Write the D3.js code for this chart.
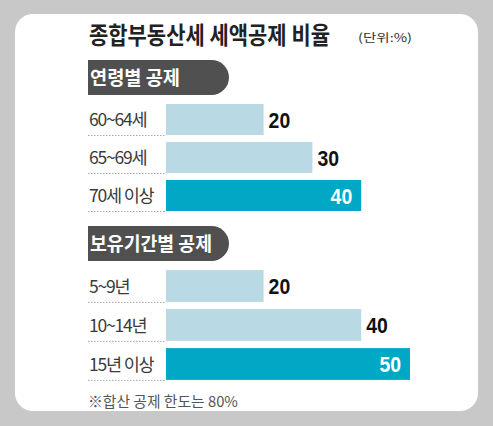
<!DOCTYPE html>
<head>
  <meta charset="utf-8">
  <script src="https://d3js.org/d3.v7.min.js"></script>
  <style>
    body { margin:0; background:#c8c8c8; }
    text { font-family: "Noto Sans CJK KR", sans-serif; }
    .num { font-family: "Liberation Sans", sans-serif; font-weight: bold; }
  </style>
</head>
<body>
  <script>
    var width = 493,
        height = 426;

    var title = "종합부동산세 세액공제 비율";
    var unit = "(단위:%)";
    var note = "※합산 공제 한도는 80%";

    var groupNames = ["연령별 공제", "보유기간별 공제"];
    var ageCats = ["60~64세", "65~69세", "70세 이상"];
    var ageValues = [20, 30, 40];
    var holdCats = ["5~9년", "10~14년", "15년 이상"];
    var holdValues = [20, 40, 50];

    var svg = d3.select("body").append("svg")
      .attr("width", width)
      .attr("height", height);

    // card
    svg.append("rect")
      .attr("x", 15).attr("y", 14)
      .attr("width", 463).attr("height", 397)
      .attr("rx", 18).attr("fill", "#fff");

    svg.append("text")
      .attr("x", 89).attr("y", 43.5)
      .attr("font-size", 23.5).attr("font-weight", "bold")
      .attr("fill", "#222")
      .attr("textLength", 241).attr("lengthAdjust", "spacingAndGlyphs")
      .text(title);

    svg.append("text")
      .attr("x", 358).attr("y", 42)
      .attr("font-size", 11.5).attr("fill", "#333")
      .attr("textLength", 54).attr("lengthAdjust", "spacingAndGlyphs")
      .text(unit);

    var x = d3.scaleLinear().domain([0, 50]).range([166, 410]);

    function drawGroup(name, cats, values, pillTop, range, textW) {
      var g = svg.append("g");

      // pill header: square left, round right
      var h = 35, r = 17.5, x0 = 88, x1 = 229;
      g.append("path")
        .attr("d", "M" + x0 + "," + pillTop + "H" + (x1 - r) +
          "A" + r + "," + r + " 0 0 1 " + (x1 - r) + "," + (pillTop + h) +
          "H" + x0 + "Z")
        .attr("fill", "#505050");
      g.append("text")
        .attr("x", 90).attr("y", pillTop + 25)
        .attr("font-size", 19).attr("font-weight", "bold")
        .attr("fill", "#fff")
        .attr("textLength", textW).attr("lengthAdjust", "spacingAndGlyphs")
        .text(name);

      var y = d3.scaleBand().domain(cats).range(range)
        .paddingInner(0.184).paddingOuter(0.092);

      var rows = g.selectAll(".row").data(cats).enter().append("g");

      rows.append("line")
        .attr("x1", 88).attr("x2", 166)
        .attr("y1", function(d) { return y(d) + y.bandwidth() + 0.5; })
        .attr("y2", function(d) { return y(d) + y.bandwidth() + 0.5; })
        .attr("stroke", "#aaa").attr("stroke-dasharray", "1.5,1.5");

      rows.append("text")
        .attr("x", 89)
        .attr("y", function(d) { return y(d) + y.bandwidth() / 2 + 6.5; })
        .attr("font-size", 17.5).attr("fill", "#3a3a3a")
        .attr("letter-spacing", -1.2)
        .text(function(d) { return d; });

      var last = cats.length - 1;
      rows.append("rect")
        .attr("x", x(0))
        .attr("y", function(d) { return y(d); })
        .attr("height", y.bandwidth())
        .attr("width", function(d, i) { return x(values[i]) - x(0); })
        .attr("fill", function(d, i) { return i == last ? "#00a8c6" : "#b9d9e4"; });

      rows.append("text")
        .attr("class", "num")
        .attr("x", function(d, i) { return i == last ? x(values[i]) - 9 : x(values[i]) + 5; })
        .attr("y", function(d) { return y(d) + y.bandwidth() / 2 + 8; })
        .attr("text-anchor", function(d, i) { return i == last ? "end" : "start"; })
        .attr("font-size", 22)
        .attr("textLength", function(d, i) { return String(values[i]).length * 10.8; })
        .attr("lengthAdjust", "spacingAndGlyphs")
        .attr("fill", function(d, i) { return i == last ? "#fff" : "#111"; })
        .text(function(d, i) { return values[i]; });
    }

    drawGroup(groupNames[0], ageCats, ageValues, 60, [100.5, 214.5], 90);
    drawGroup(groupNames[1], holdCats, holdValues, 226, [266.5, 383.5], 122);

    svg.append("text")
      .attr("x", 88).attr("y", 407)
      .attr("font-size", 15).attr("fill", "#555")
      .attr("textLength", 150).attr("lengthAdjust", "spacingAndGlyphs")
      .text(note);
  </script>
</body>
